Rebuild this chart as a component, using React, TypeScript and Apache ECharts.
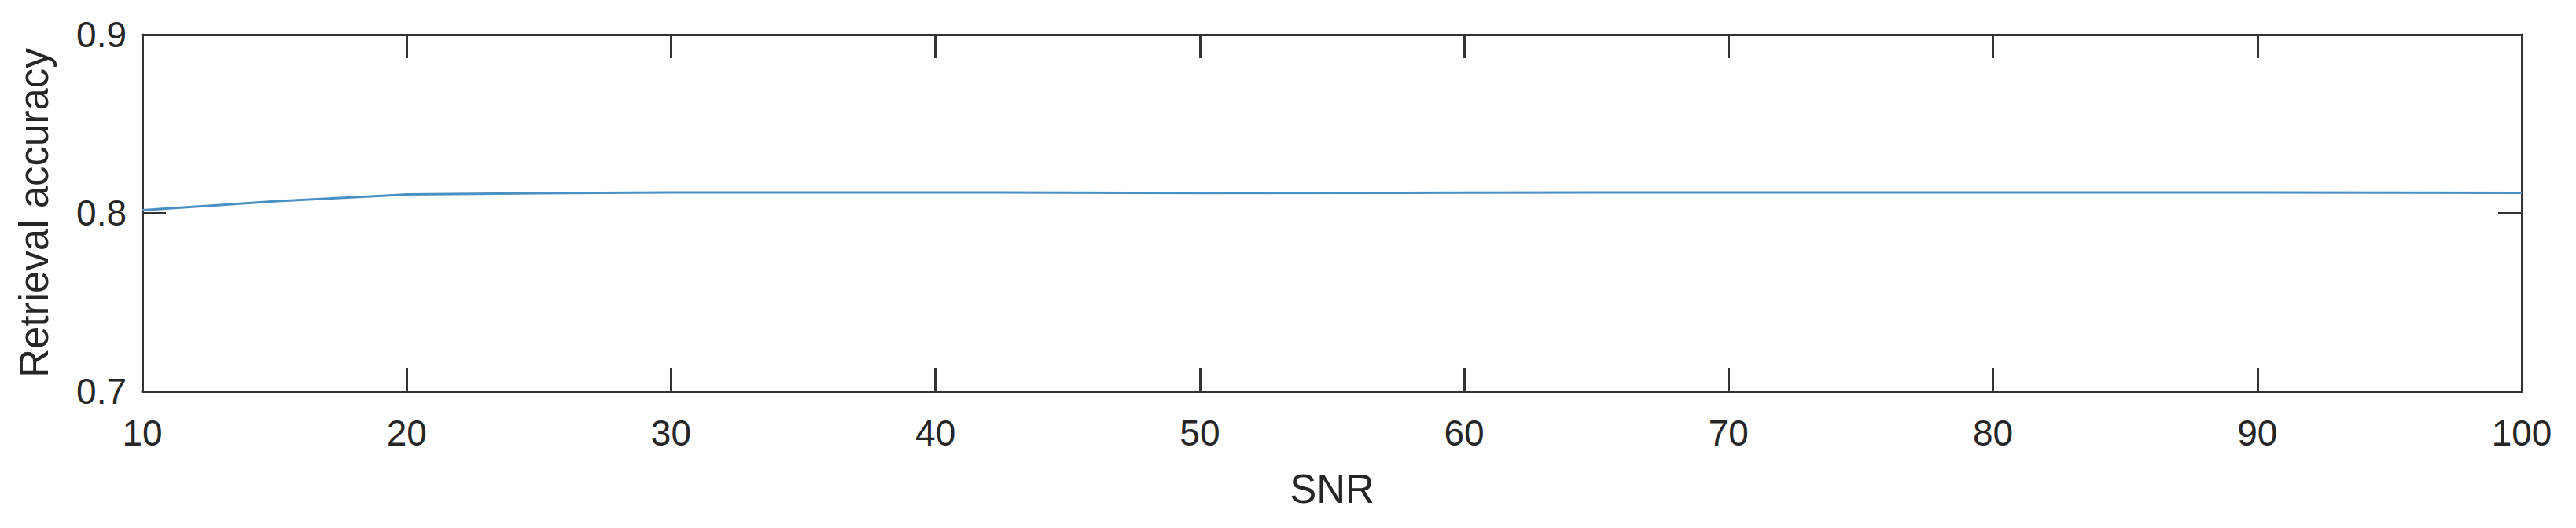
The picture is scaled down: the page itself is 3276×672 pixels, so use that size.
import React, { useEffect, useRef } from "react";
import * as echarts from "echarts";

const snr = [10, 15, 20, 25, 30, 40, 50, 60, 70, 80, 90, 100];
const accuracy = [0.8015, 0.8065, 0.8103, 0.811, 0.8114, 0.8115, 0.8111, 0.8113, 0.8115, 0.8115, 0.8115, 0.8112];
const xTicks = [10, 20, 30, 40, 50, 60, 70, 80, 90, 100];
const yTicks = ["0.7", "0.8", "0.9"];

const FONT = "'Liberation Sans', Arial, Helvetica, sans-serif";
const AXIS_COLOR = "#333333";
const TEXT_COLOR = "#262626";

export default function App() {
  const ref = useRef<HTMLDivElement>(null);
  useEffect(() => {
    if (!ref.current) return;
    const chart = echarts.init(ref.current, undefined, { renderer: "svg" });
    const axisLine = { show: true, onZero: false, lineStyle: { color: AXIS_COLOR, width: 3 } };
    const tick = { show: true, inside: true, length: 30, lineStyle: { color: AXIS_COLOR, width: 3 } };
    chart.setOption({
      animation: false,
      backgroundColor: "#ffffff",
      grid: { left: 181, right: 69, top: 44, bottom: 174, containLabel: false },
      xAxis: [
        {
          type: "value",
          min: xTicks[0],
          max: xTicks[xTicks.length - 1],
          interval: 10,
          position: "bottom",
          axisLine,
          axisTick: tick,
          splitLine: { show: false },
          axisLabel: { show: true, margin: 30, fontSize: 46, color: TEXT_COLOR, fontFamily: FONT },
          name: "SNR",
          nameLocation: "middle",
          nameGap: 99,
          nameTextStyle: { fontSize: 51, color: TEXT_COLOR, fontFamily: FONT },
        },
        {
          type: "value",
          min: xTicks[0],
          max: xTicks[xTicks.length - 1],
          interval: 10,
          position: "top",
          axisLine,
          axisTick: tick,
          splitLine: { show: false },
          axisLabel: { show: false },
        },
      ],
      yAxis: [
        {
          type: "value",
          min: 0.7,
          max: 0.9,
          interval: 0.1,
          position: "left",
          axisLine,
          axisTick: tick,
          splitLine: { show: false },
          axisLabel: {
            show: true,
            margin: 20,
            fontSize: 46,
            color: TEXT_COLOR,
            fontFamily: FONT,
            formatter: (v: number) => {
              const s = v.toFixed(1);
              return yTicks.includes(s) ? s : "";
            },
          },
          name: "Retrieval accuracy",
          nameLocation: "middle",
          nameGap: 112,
          nameRotate: 90,
          nameTextStyle: { fontSize: 51, color: TEXT_COLOR, fontFamily: FONT },
        },
        {
          type: "value",
          min: 0.7,
          max: 0.9,
          interval: 0.1,
          position: "right",
          axisLine,
          axisTick: tick,
          splitLine: { show: false },
          axisLabel: { show: false },
        },
      ],
      series: [
        {
          type: "line",
          xAxisIndex: 0,
          yAxisIndex: 0,
          data: snr.map((x, i) => [x, accuracy[i]]),
          showSymbol: false,
          symbol: "none",
          smooth: false,
          lineStyle: { color: "#4a90c2", width: 3 },
        },
      ],
    });
    return () => chart.dispose();
  }, []);
  return (
    <div
      ref={ref}
      style={{ position: "fixed", left: 0, top: 0, width: 3276, height: 672, background: "#fff" }}
    />
  );
}
